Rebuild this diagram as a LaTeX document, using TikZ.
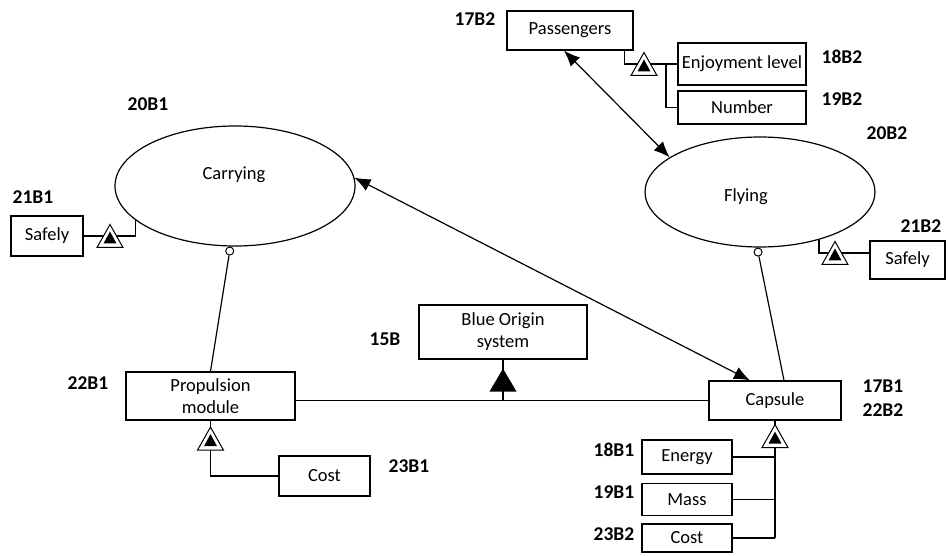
\documentclass[tikz,border=0pt]{standalone}
\usepackage{fontspec}
\setmainfont{Carlito}
\usetikzlibrary{arrows.meta,shapes.geometric}
\begin{document}
\begin{tikzpicture}[x=1pt,y=-1pt, line width=1.2pt,
  font=\fontsize{18.5}{22}\selectfont,
  box/.style={draw, rectangle, inner sep=0pt, align=center},
  oval/.style={draw, ellipse, inner sep=0pt},
  lbl/.style={font=\fontsize{19.5}{23}\selectfont\bfseries, inner sep=0pt},
  circ/.style={draw, circle, fill=white, minimum size=8pt, inner sep=0pt, line width=1pt, anchor=north},
  dbl/.style={{Latex[length=16pt,width=13pt]}-{Latex[length=16pt,width=13pt]}},
  exhib/.pic={\draw[fill=white, line width=1pt] (0,-11.5) -- (13,11.5) -- (-13,11.5) -- cycle;
              \fill (0,-4.5) -- (6.5,7.5) -- (-6.5,7.5) -- cycle;}
]
\useasboundingbox (0,0) rectangle (948,556);

% ellipses
\node[oval, minimum width=240pt, minimum height=120pt] (carry) at (235,186) {};
\node (tcarry) at (234,175) {Carrying};
\node[oval, minimum width=230pt, minimum height=110pt] (fly) at (760,192) {};
\node (tfly) at (746,197) {Flying};

% boxes
\node[box, minimum width=126pt, minimum height=39pt] (pass) at (570,30.5) {Passengers};
\node[box, minimum width=128pt, minimum height=42pt] (enj) at (742,64) {Enjoyment level};
\node[box, minimum width=128pt, minimum height=33pt] (num) at (742,107.5) {Number};
\node[box, minimum width=72pt, minimum height=40pt] (safeL) at (47,236) {Safely};
\node[box, minimum width=75pt, minimum height=38pt] (safeR) at (907.5,260) {Safely};
\node[box, minimum width=168pt, minimum height=54pt] (blue) at (503,332) {Blue Origin\\system};
\node[box, minimum width=169pt, minimum height=48pt] (prop) at (210.5,396) {Propulsion\\module};
\node[box, minimum width=132pt, minimum height=39pt] (caps) at (775,400.5) {Capsule};
\node[box, minimum width=91pt, minimum height=40pt] (costL) at (324.5,476) {Cost};
\node[box, minimum width=90pt, minimum height=34pt] (energy) at (687,457) {Energy};
\node[box, minimum width=90pt, minimum height=32pt] (mass) at (687,499.5) {Mass};
\node[box, minimum width=90pt, minimum height=28pt] (costR) at (687,538) {Cost};

% labels
\node[lbl] (l17B2) at (475,19) {17B2};
\node[lbl] (l18B2) at (842,57) {18B2};
\node[lbl] (l19B2) at (842,99) {19B2};
\node[lbl] (l20B1) at (148,104) {20B1};
\node[lbl] (l20B2) at (887,133) {20B2};
\node[lbl] (l21B1) at (33,197) {21B1};
\node[lbl] (l21B2) at (921,226) {21B2};
\node[lbl] (l15B) at (385,339) {15B};
\node[lbl] (l22B1) at (88,383) {22B1};
\node[lbl] (l17B1) at (883,386) {17B1};
\node[lbl] (l22B2) at (883,410) {22B2};
\node[lbl] (l23B1) at (409,466) {23B1};
\node[lbl] (l18B1) at (614,450) {18B1};
\node[lbl] (l19B1) at (614,492) {19B1};
\node[lbl] (l23B2) at (614,534) {23B2};

% Passengers attributes
\coordinate (jP) at (666,64);
\draw ([xshift=-9pt]pass.south east) |- (enj.west);
\draw (jP) |- (num.west);
\pic at (644,64) {exhib};

% Safely left
\draw (carry.199) |- (safeL.east);
\pic at (110,236) {exhib};

% Safely right
\coordinate (tR) at (835,253);
\draw (fly.-39) |- (tR) -- (tR -| safeR.west);
\pic at (tR) {exhib};

% Propulsion - Cost
\draw (prop.south) |- (costL.west);
\pic at ([yshift=-18pt]prop.south) {exhib};

% Capsule attributes
\draw (caps.south) -- (caps.south |- costR.east);
\draw (energy.east) -- (energy.east -| caps.south);
\draw (mass.east) -- (mass.east -| caps.south);
\draw (costR.east) -- (costR.east -| caps.south);
\pic at ([yshift=-15.5pt]caps.south) {exhib};

% Blue Origin aggregation
\draw (prop.east |- caps.west) -- (caps.west);
\draw (blue.south) -- (blue.south |- caps.west);
\fill ([yshift=-9pt]blue.south) -- ([shift={(13.5,32)}]blue.south) -- ([shift={(-13.5,32)}]blue.south) -- cycle;

% exhibition circles and links
\node[circ] (cC) at (carry.-95) {};
\draw (cC) -- (prop.north);
\node[circ] (cF) at (fly.-92) {};
\draw (cF) -- ([xshift=9pt]caps.north);

% double arrows
\draw[dbl] ([xshift=-6pt]pass.south) -- (fly.159);
\draw[dbl] (carry.4) -- ([xshift=-25pt]caps.north);
\end{tikzpicture}
\end{document}
